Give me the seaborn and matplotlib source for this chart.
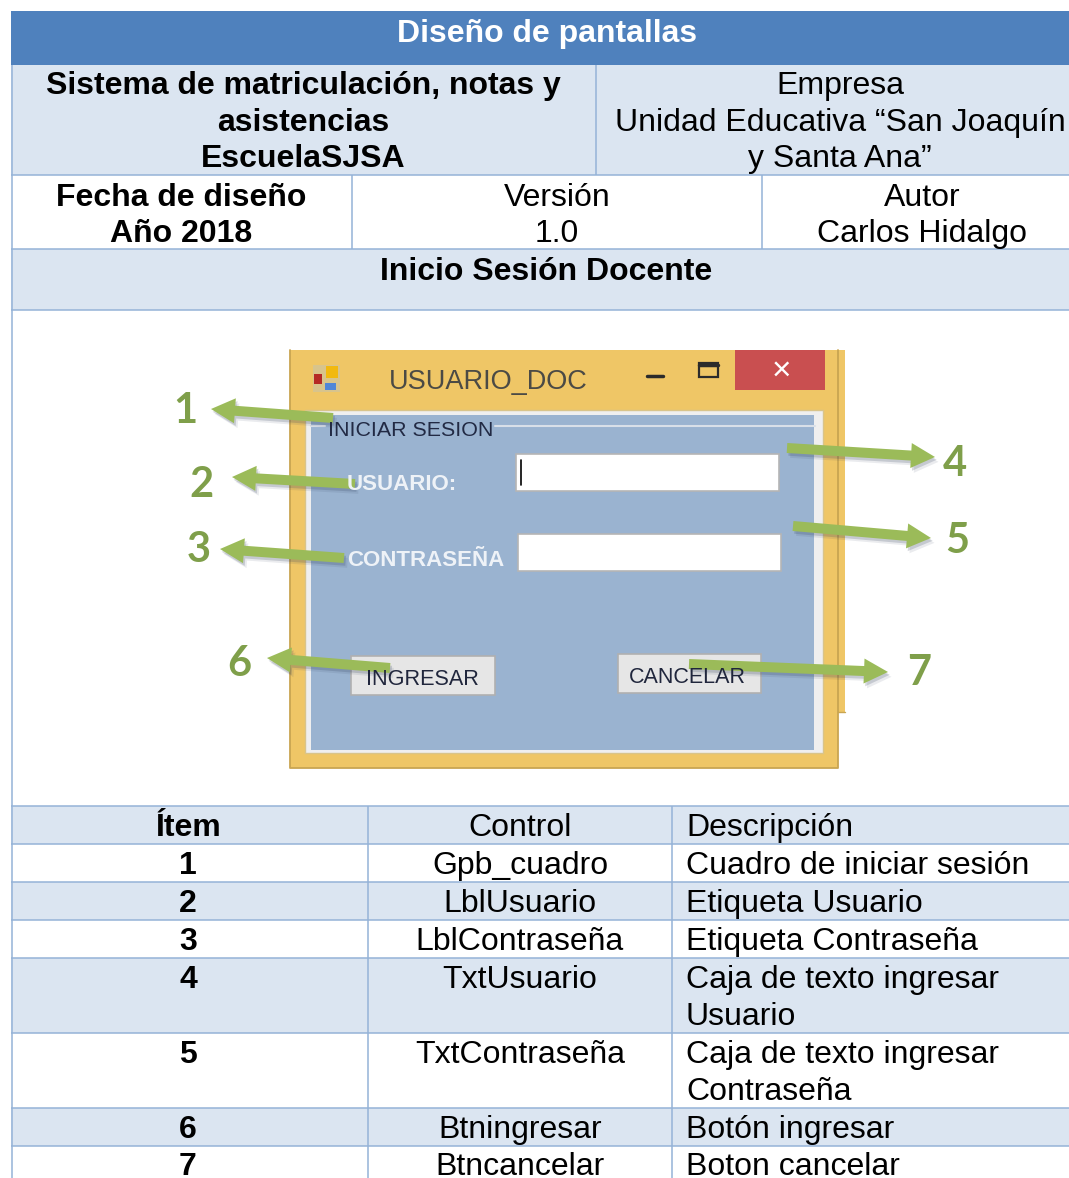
import matplotlib
matplotlib.use("Agg")
import matplotlib.pyplot as plt
import matplotlib.patheffects as pe
from matplotlib.patches import Rectangle
import seaborn as sns

title = "Diseño de pantallas"
system_lines = ["Sistema de matriculación, notas y", "asistencias", "EscuelaSJSA"]
company_lines = ["Empresa", "Unidad Educativa “San Joaquín", "y Santa Ana”"]
date_lines = ["Fecha de diseño", "Año 2018"]
version_lines = ["Versión", "1.0"]
author_lines = ["Autor", "Carlos Hidalgo"]
screen_name = "Inicio Sesión Docente"

item_header = ["Ítem", "Control", "Descripción"]
items = ["1", "2", "3", "4", "5", "6", "7"]
controls = ["Gpb_cuadro", "LblUsuario", "LblContraseña", "TxtUsuario",
            "TxtContraseña", "Btningresar", "Btncancelar"]
descriptions = ["Cuadro de iniciar sesión", "Etiqueta Usuario", "Etiqueta Contraseña",
                ["Caja de texto ingresar", "Usuario"], ["Caja de texto ingresar", "Contraseña"],
                "Botón ingresar", "Boton cancelar"]

BLUE = "#4f81bd"
BAND = "#dbe5f1"
RULE = "#95b3d7"
ORANGE = "#efc666"
EDGE = "#c9a552"
PANEL = "#9ab3d0"
GREEN = "#9bbb59"
NUMBER = "#7f9f4a"

sns.set_theme(style="white", rc={"font.family": ["Liberation Sans", "DejaVu Sans"]})

fig = plt.figure(figsize=(10.69, 11.78), dpi=100)
ax = fig.add_axes([0, 0, 1, 1])
ax.set_xlim(0, 1069)
ax.set_ylim(1178, 0)
ax.axis("off")

FS = 23


def box(x0, y0, x1, y1, color, edge="none", lw=0, z=1):
    ax.add_patch(Rectangle((x0, y0), x1 - x0, y1 - y0, facecolor=color,
                           edgecolor=edge, linewidth=lw, zorder=z))


def label(x, y, s, bold=False, ha="center", color="black", size=FS):
    ax.text(x, y, s, ha=ha, va="baseline", color=color, fontsize=size,
            fontweight="bold" if bold else "normal", zorder=6)


def stacked(x, baselines, lines, bold=False):
    for y, s in zip(baselines, lines):
        label(x, y, s, bold)


def hline(y, x0=11, x1=1069):
    ax.plot([x0, x1], [y, y], color=RULE, lw=1.1, zorder=3, solid_capstyle="butt")


def vline(x, y0, y1):
    ax.plot([x, x], [y0, y1], color=RULE, lw=1.1, zorder=3, solid_capstyle="butt")


# top part of the form
box(11, 11, 1069, 65, BLUE)
box(11, 65, 1069, 175, BAND)
box(11, 249, 1069, 310, BAND)
for y in [175, 249, 310, 806]:
    hline(y)
vline(11.5, 65, 1178)
vline(596, 65, 175)
vline(352, 175, 249)
vline(762, 175, 249)

label(547, 42, title, True, color="white")
stacked(303, [94, 131, 167], system_lines, True)
stacked(840, [94, 131, 167], company_lines)
stacked(181, [206, 242], date_lines, True)
stacked(557, [206, 242], version_lines)
stacked(922, [206, 242], author_lines)
label(546, 280, screen_name, True)

# screenshot of the login window
box(838, 350, 845, 712, ORANGE, z=1)
box(290, 350, 838, 768, ORANGE, z=1.5)
ax.plot([290, 290, 838, 838], [350, 768, 768, 350], color=EDGE, lw=1.3, zorder=1.6)
ax.plot([838, 845], [712, 712], color=EDGE, lw=1, zorder=1.6)
box(305, 410, 823, 753, "#efefef", edge="#d9c48a", lw=1, z=2)
box(311, 415, 814, 750, PANEL, z=2.1)
ax.plot([311, 325], [426, 426], color="#d8dfe8", lw=1.5, zorder=2.2)
ax.plot([495, 815], [426, 426], color="#d8dfe8", lw=1.5, zorder=2.2)
box(735, 350, 825, 390, "#c94f50", z=2)
ax.text(781, 371, "×", color="white", fontsize=24, ha="center", va="center", zorder=3)
ax.plot([647, 663], [376, 376], color="#2b2b2b", lw=2.5, zorder=3)
box(699, 363, 718, 377, "none", edge="#2b2b2b", lw=1.6, z=3)
ax.plot([699, 718], [364.5, 364.5], color="#2b2b2b", lw=2.5, zorder=3)
label(389, 389, "USUARIO_DOC", ha="left", color="#4b4a45", size=19.5)

box(313, 365, 340, 392, "#d8c48c", z=2)
box(326, 366, 338, 378, "#f2b90f", z=3)
box(314, 374, 322, 384, "#b52a25", z=3)
box(325, 383, 336, 390, "#4f86d8", z=3)

label(328, 436, "INICIAR SESION", ha="left", color="#222a44", size=15.4)
label(347, 490, "USUARIO:", ha="left", color="#eef2f7", size=16, bold=True)
label(347, 566, "CONTRASEÑA", ha="left", color="#eef2f7", size=16, bold=True)
box(516, 454, 779, 491, "white", edge="#b5b5b5", lw=1.2, z=3)
box(518, 534, 781, 571, "white", edge="#b5b5b5", lw=1.2, z=3)
ax.plot([521, 521], [460, 485], color="black", lw=1.2, zorder=4)
box(351, 656, 495, 695, "#e6e6e6", edge="#b0b0b0", lw=1.2, z=3)
box(618, 654, 761, 693, "#e6e6e6", edge="#b0b0b0", lw=1.2, z=3)
label(366, 685, "INGRESAR", ha="left", color="#20263c", size=15.6)
label(629, 683, "CANCELAR", ha="left", color="#20263c", size=15.5)

# green callouts
arrow_tails = [(333, 418), (355, 484), (344, 558), (787, 448), (793, 526), (390, 668), (689, 664)]
arrow_tips = [(211, 409), (232, 477), (220, 549), (935, 457), (931, 538), (267, 658), (888, 672)]
number_pos = [(185, 411), (201, 485), (199, 550), (955, 464), (957, 541), (239, 664), (919, 673)]
shadow = [pe.SimplePatchShadow(offset=(2.5, -3.5), shadow_rgbFace="#33415c", alpha=0.1),
          pe.SimplePatchShadow(offset=(1.2, -2), shadow_rgbFace="#33415c", alpha=0.2),
          pe.Normal()]
for (tx, ty), (hx, hy) in zip(arrow_tails, arrow_tips):
    arr = ax.arrow(tx, ty, hx - tx, hy - ty, width=10, head_width=25, head_length=24,
                   length_includes_head=True, color=GREEN, linewidth=0, zorder=5)
    arr.set_path_effects(shadow)
for (x, y), n in zip(number_pos, items):
    ax.text(x, y, n, color=NUMBER, fontsize=30, fontweight="bold", family=["Lato", "DejaVu Sans"],
            ha="center", va="center", zorder=6)

# item table
row_edges = [806, 844, 882, 920, 958, 1033, 1108, 1146, 1178]
for i in range(len(row_edges) - 1):
    if i % 2 == 0:
        box(11, row_edges[i], 1069, row_edges[i + 1], BAND)
    if i > 0:
        hline(row_edges[i])
vline(368, 806, 1178)
vline(672, 806, 1178)

label(188, 836, item_header[0], True)
label(520, 836, item_header[1])
label(686, 836, item_header[2], ha="left")
baselines = [874, 912, 950, 988, 1063, 1138, 1175]
for y, it, ctl, desc in zip(baselines, items, controls, descriptions):
    label(188, y, it, True)
    label(520, y, ctl)
    if isinstance(desc, list):
        label(686, y, desc[0], ha="left")
        label(686, y + 37, desc[1], ha="left")
    else:
        label(686, y, desc, ha="left")

fig.savefig("out.png", dpi=100, facecolor="white")
